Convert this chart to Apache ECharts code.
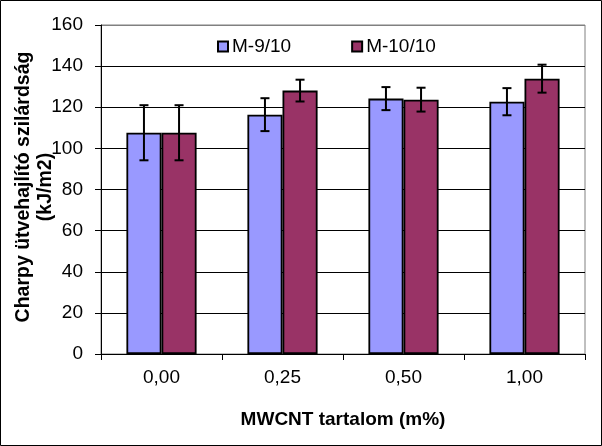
<!DOCTYPE html>
<html><head><meta charset="utf-8">
<script src="https://cdn.jsdelivr.net/npm/echarts@6/dist/echarts.min.js"></script>
<style>html,body{margin:0;padding:0;background:#fff}#c{width:602px;height:446px}</style>
</head><body><div id="c"></div>
<script>
const categories = ['0,00', '0,25', '0,50', '1,00'];
const seriesNames = ['M-9/10', 'M-10/10'];
const m9Values = [107.6, 116.4, 124.2, 122.7];
const m9Errors = [13.4, 8.0, 5.6, 6.6];
const m10Values = [107.6, 128.1, 123.7, 133.9];
const m10Errors = [13.4, 5.3, 5.8, 6.8];
const yTicks = [0, 20, 40, 60, 80, 100, 120, 140, 160];

const FONT = 'Liberation Sans, Arial, sans-serif';
const colors = ['#9999FF', '#993366'];
const catGap = 0.42;

function errSeries(vals, errs, side) {
  return {
    type: 'custom',
    silent: true,
    z: 5,
    data: vals.map((v, i) => [i, v, errs[i]]),
    renderItem: function (params, api) {
      const i = api.value(0), v = api.value(1), e = api.value(2);
      const band = api.size([1, 0])[0];
      const barW = band * (1 - catGap) / 2;
      const c = api.coord([i, v]);
      const x = c[0] + side * barW / 2;
      const top = api.coord([i, v + e])[1];
      const bot = api.coord([i, v - e])[1];
      const cap = 4.5;
      const st = { stroke: '#000', lineWidth: 2 };
      return {
        type: 'group',
        children: [
          { type: 'line', shape: { x1: x, y1: top, x2: x, y2: bot }, style: st },
          { type: 'line', shape: { x1: x - cap, y1: top, x2: x + cap, y2: top }, style: st },
          { type: 'line', shape: { x1: x - cap, y1: bot, x2: x + cap, y2: bot }, style: st }
        ]
      };
    }
  };
}

const splitColors = yTicks.map((t, i) => i === yTicks.length - 1 ? '#808080' : '#000');

const chart = echarts.init(document.getElementById('c'), null, { renderer: 'canvas' });
chart.setOption({
  animation: false,
  textStyle: { fontFamily: FONT },
  grid: { left: 101, top: 25, right: 17, bottom: 92, show: true, borderColor: '#808080', borderWidth: 1, containLabel: false },
  legend: {
    data: seriesNames,
    left: 212, top: 32,
    itemWidth: 10, itemHeight: 10, itemGap: 60,
    textStyle: { fontFamily: FONT, fontSize: 19, color: '#000', padding: [0, 0, 0, -1] },
    icon: 'rect'
  },
  xAxis: {
    type: 'category',
    data: categories,
    axisLine: { lineStyle: { color: '#000', width: 1 } },
    axisTick: { show: true, length: 6, lineStyle: { color: '#000' } },
    axisLabel: { fontSize: 19, color: '#000', margin: 14, fontFamily: FONT },
    name: 'MWCNT tartalom (m%)',
    nameLocation: 'middle',
    nameGap: 56,
    nameTextStyle: { fontSize: 19, fontWeight: 'bold', color: '#000', fontFamily: FONT }
  },
  yAxis: {
    type: 'value',
    min: yTicks[0], max: yTicks[yTicks.length - 1], interval: 20,
    axisLine: { show: true, lineStyle: { color: '#000', width: 1 } },
    axisTick: { show: true, length: 6, lineStyle: { color: '#000' } },
    axisLabel: { fontSize: 19, color: '#000', margin: 18, fontFamily: FONT },
    splitLine: { show: true, lineStyle: { color: splitColors, width: 1 } }
  },
  graphic: [
    { type: 'rect', shape: { x: 0.5, y: 0.5, width: 601, height: 445 }, style: { fill: 'none', stroke: '#000', lineWidth: 1 }, silent: true, z: 100 },
    {
      type: 'text', x: 35, y: 187, rotation: Math.PI / 2,
      style: {
        text: 'Charpy ütvehajlító szilárdság\n(kJ/m2)',
        fontSize: 19.5, fontWeight: 'bold', fontFamily: FONT, fill: '#000',
        align: 'center', verticalAlign: 'middle', lineHeight: 22
      }
    }
  ],
  series: [
    {
      name: seriesNames[0], type: 'bar', data: m9Values,
      barGap: '0%', barCategoryGap: (catGap * 100) + '%',
      itemStyle: { color: colors[0], borderColor: '#000', borderWidth: 1.8 }
    },
    {
      name: seriesNames[1], type: 'bar', data: m10Values,
      barGap: '0%', barCategoryGap: (catGap * 100) + '%',
      itemStyle: { color: colors[1], borderColor: '#000', borderWidth: 1.8 }
    },
    errSeries(m9Values, m9Errors, -1),
    errSeries(m10Values, m10Errors, 1)
  ]
});
</script></body></html>
